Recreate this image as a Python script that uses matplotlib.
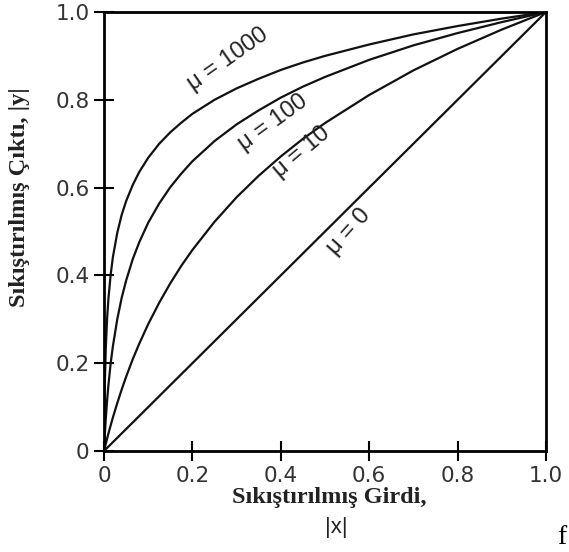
import numpy as np
import matplotlib
matplotlib.use("Agg")
from matplotlib import pyplot as plt

# values
x_vals = [0, 0.001, 0.002, 0.004, 0.007, 0.01, 0.015, 0.02, 0.03, 0.04, 0.05, 0.065,
          0.08, 0.1, 0.125, 0.15, 0.175, 0.2, 0.25, 0.3, 0.35, 0.4, 0.45, 0.5,
          0.6, 0.7, 0.8, 0.9, 1.0]
y_mu1000 = [0, 0.100, 0.159, 0.233, 0.301, 0.347, 0.401, 0.441, 0.497, 0.538, 0.569, 0.606,
            0.636, 0.668, 0.700, 0.726, 0.748, 0.768, 0.800, 0.826, 0.848, 0.868, 0.885, 0.900,
            0.926, 0.949, 0.968, 0.985, 1.0]
y_mu100 = [0, 0.021, 0.040, 0.073, 0.115, 0.150, 0.199, 0.238, 0.300, 0.349, 0.388, 0.437,
           0.476, 0.520, 0.564, 0.601, 0.632, 0.660, 0.706, 0.744, 0.776, 0.805, 0.830, 0.852,
           0.891, 0.924, 0.952, 0.977, 1.0]
y_mu10 = [0, 0.004, 0.008, 0.016, 0.028, 0.040, 0.058, 0.076, 0.109, 0.140, 0.169, 0.209,
          0.245, 0.289, 0.338, 0.382, 0.422, 0.458, 0.522, 0.578, 0.627, 0.671, 0.711, 0.747,
          0.811, 0.867, 0.916, 0.960, 1.0]
x_mu0 = [0, 1.0]
y_mu0 = [0, 1.0]

curve_labels = ["\u03bc = 1000", "\u03bc = 100", "\u03bc = 10", "\u03bc = 0"]
label_pos = [(0.28, 0.892, 35), (0.382, 0.749, 36), (0.446, 0.681, 40), (0.553, 0.499, 48)]

tick_vals = [0, 0.2, 0.4, 0.6, 0.8, 1.0]
tick_text = ["0", "0.2", "0.4", "0.6", "0.8", "1.0"]

fig = plt.figure(figsize=(5.69, 5.52), dpi=100)
ax = fig.add_axes([104 / 569, 1 - 451 / 552, 442 / 569, 439 / 552])

for xs, ys in [(x_vals, y_mu1000), (x_vals, y_mu100), (x_vals, y_mu10), (x_mu0, y_mu0)]:
    ax.plot(xs, ys, color="#111111", lw=1.6, solid_joinstyle="round")

for text, (lx, ly, rot) in zip(curve_labels, label_pos):
    ax.text(lx, ly, text, rotation=rot, ha="center", va="center",
            fontsize=17, family="Liberation Sans", color="#222222",
            rotation_mode="anchor")

ax.set_xlim(0, 1)
ax.set_ylim(0, 1)
ax.set_xticks(tick_vals)
ax.set_xticklabels(tick_text)
ax.set_yticks(tick_vals)
ax.set_yticklabels(tick_text)
ax.tick_params(direction="inout", length=15, width=1.5, labelsize=15.5, pad=3)
for lab in ax.get_xticklabels() + ax.get_yticklabels():
    lab.set_family("DejaVu Sans")
    lab.set_color("#333333")
for sp in ax.spines.values():
    sp.set_linewidth(2)

fig.text(20 / 569, 1 - 197 / 552, "S\u0131k\u0131\u015ft\u0131r\u0131lm\u0131\u015f \u00c7\u0131kt\u0131, |y|",
         rotation=90, ha="center", va="center", fontsize=17.5,
         family="Liberation Serif", weight="bold", color="#222222")
fig.text(329 / 569, 1 - 497 / 552, "S\u0131k\u0131\u015ft\u0131r\u0131lm\u0131\u015f Girdi,",
         ha="center", va="center", fontsize=17.5, family="Liberation Serif",
         weight="bold", color="#222222")
fig.text(336 / 569, 1 - 528 / 552, "|x|", ha="center", va="center",
         fontsize=16, family="Liberation Sans", color="#222222")
fig.text(557 / 569, 1 - 538 / 552, "f", ha="left", va="center",
         fontsize=20, family="Liberation Serif")

plt.savefig("out.png", dpi=100)
